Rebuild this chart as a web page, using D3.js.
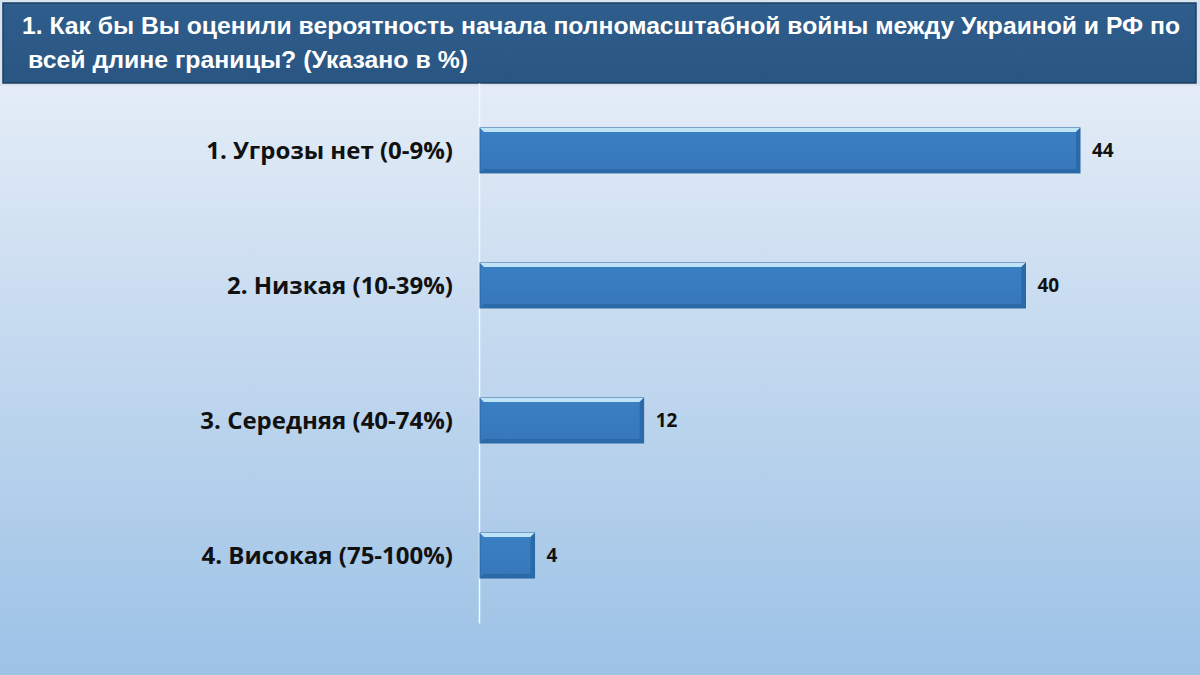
<!DOCTYPE html>
<html>
<head>
<meta charset="utf-8">
<script src="https://cdn.jsdelivr.net/npm/d3@7"></script>
<style>
  body { margin: 0; padding: 0; overflow: hidden; }
  svg { display: block; }
</style>
</head>
<body>
<svg id="chart"></svg>
<script>
var categories = ["1. Угрозы нет (0-9%)", "2. Низкая (10-39%)", "3. Середняя (40-74%)", "4. Високая (75-100%)"];
var values = [44, 40, 12, 4];
var titleLines = ["1. Как бы Вы оценили вероятность начала полномасштабной войны между Украиной и РФ по",
                  "всей длине границы? (Указано в %)"];

var width = 1200;
var height = 675;

var svg = d3.select("#chart")
            .attr("width", width)
            .attr("height", height);

var defs = svg.append("defs");

/*background*/
var bg = defs.append("linearGradient")
             .attr("id", "bg")
             .attr("x1", 0).attr("y1", 0)
             .attr("x2", 0).attr("y2", 1);
bg.append("stop").attr("offset", "0%").attr("stop-color", "#eef3fa");
bg.append("stop").attr("offset", "45%").attr("stop-color", "#c9dcf0");
bg.append("stop").attr("offset", "100%").attr("stop-color", "#9cc2e6");

var head = defs.append("linearGradient")
               .attr("id", "head")
               .attr("x1", 0).attr("y1", 0)
               .attr("x2", 0).attr("y2", 1);
head.append("stop").attr("offset", "0%").attr("stop-color", "#2f5e8c");
head.append("stop").attr("offset", "100%").attr("stop-color", "#2a5582");

var barFill = defs.append("linearGradient")
                  .attr("id", "barFill")
                  .attr("x1", 0).attr("y1", 0)
                  .attr("x2", 0).attr("y2", 1);
barFill.append("stop").attr("offset", "0%").attr("stop-color", "#3b80c4");
barFill.append("stop").attr("offset", "100%").attr("stop-color", "#3677ba");

svg.append("rect")
   .attr("width", width)
   .attr("height", height)
   .attr("fill", "url(#bg)");

/*title box*/
svg.append("rect")
   .attr("x", 0)
   .attr("y", 0)
   .attr("width", width)
   .attr("height", 86)
   .attr("fill", "#d9e4f0");

svg.append("rect")
   .attr("x", 3)
   .attr("y", 3)
   .attr("width", 1193)
   .attr("height", 80)
   .attr("fill", "url(#head)")
   .attr("stroke", "#1d3f63")
   .attr("stroke-width", 1.5);

var titleX = [22, 28];
var titleLen = [1158, 440];

svg.selectAll("text.title")
   .data(titleLines)
   .enter()
   .append("text")
   .attr("class", "title")
   .attr("x", function(d, i)
   {
     return titleX[i];
   })
   .attr("y", function(d, i)
   {
     return 34 + i * 34;
   })
   .attr("textLength", function(d, i)
   {
     return titleLen[i];
   })
   .attr("lengthAdjust", "spacingAndGlyphs")
   .attr("fill", "white")
   .attr("font-family", "'Liberation Sans', Arial, sans-serif")
   .attr("font-weight", "bold")
   .attr("font-size", 24)
   .text(function(d)
   {
     return d;
   });

/*scales*/
var x = d3.scaleLinear()
          .domain([0, 44])
          .range([480, 1080]);

var y = d3.scaleBand()
          .domain(categories)
          .range([83, 623])
          .paddingInner(0.667)
          .paddingOuter(0.333);

/*axis line*/
var axis = svg.append("g")
              .attr("transform", "translate(479,0)")
              .call(d3.axisLeft(y).tickSize(0).tickFormat(""));
axis.select(".domain")
    .attr("stroke", "#f4f8fc")
    .attr("stroke-width", 1.5);

/*bars*/
var bars = svg.append("g");

bars.selectAll("rect.bar")
    .data(values)
    .enter()
    .append("rect")
    .attr("class", "bar")
    .attr("x", x(0))
    .attr("y", function(d, i)
    {
      return y(categories[i]);
    })
    .attr("width", function(d)
    {
      return x(d) - x(0);
    })
    .attr("height", y.bandwidth())
    .attr("fill", "url(#barFill)")
    .attr("stroke", "#2d659f")
    .attr("stroke-width", 1);

/*bevel highlight top*/
bars.selectAll("path.hi")
    .data(values)
    .enter()
    .append("path")
    .attr("class", "hi")
    .attr("d", function(d, i)
    {
      var x0 = x(0), x1 = x(d), y0 = y(categories[i]);
      return "M" + x0 + "," + y0 + "L" + x1 + "," + y0 + "L" + (x1 - 4) + "," + (y0 + 4) +
             "L" + (x0 + 4) + "," + (y0 + 4) + "Z";
    })
    .attr("fill", "#bfe3f7");

/*bevel shadow bottom and right*/
bars.selectAll("path.lo")
    .data(values)
    .enter()
    .append("path")
    .attr("class", "lo")
    .attr("d", function(d, i)
    {
      var x0 = x(0), x1 = x(d), y0 = y(categories[i]), y1 = y0 + y.bandwidth();
      return "M" + x0 + "," + y1 + "L" + x1 + "," + y1 + "L" + x1 + "," + y0 +
             "L" + (x1 - 4) + "," + (y0 + 4) + "L" + (x1 - 4) + "," + (y1 - 4) +
             "L" + (x0 + 4) + "," + (y1 - 4) + "Z";
    })
    .attr("fill", "#2b6aa8");

/*category labels*/
svg.selectAll("text.cat")
   .data(categories)
   .enter()
   .append("text")
   .attr("class", "cat")
   .attr("x", 453)
   .attr("y", function(d)
   {
     return y(d) + y.bandwidth() / 2;
   })
   .attr("dy", "0.35em")
   .attr("text-anchor", "end")
   .attr("font-family", "'Open Sans', Lato, sans-serif")
   .attr("font-weight", "bold")
   .attr("font-size", 24)
   .attr("fill", "#111")
   .text(function(d)
   {
     return d;
   });

/*value labels*/
svg.selectAll("text.val")
   .data(values)
   .enter()
   .append("text")
   .attr("class", "val")
   .attr("x", function(d)
   {
     return x(d) + 12;
   })
   .attr("y", function(d, i)
   {
     return y(categories[i]) + y.bandwidth() / 2;
   })
   .attr("dy", "0.35em")
   .attr("font-family", "'Open Sans', Lato, sans-serif")
   .attr("font-weight", "bold")
   .attr("font-size", 19)
   .attr("fill", "#111")
   .text(function(d)
   {
     return d;
   });
</script>
</body>
</html>
